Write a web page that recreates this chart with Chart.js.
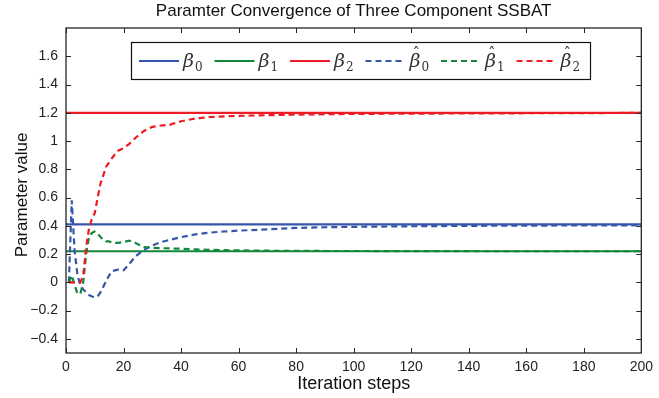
<!DOCTYPE html>
<html>
<head>
<meta charset="utf-8">
<script src="https://cdn.jsdelivr.net/npm/chart.js@4"></script>
<style>
  html, body { margin: 0; padding: 0; background: #fff; }
  #wrap { width: 659px; height: 398px; }
</style>
</head>
<body>
<div id="wrap"><canvas id="myChart" width="659" height="398"></canvas></div>
<script>
const title = 'Paramter Convergence of Three Component SSBAT';
const xLabel = 'Iteration steps';
const yLabel = 'Parameter value';
const xTicks = [0, 20, 40, 60, 80, 100, 120, 140, 160, 180, 200];
const yTicks = [-0.4, -0.2, 0, 0.2, 0.4, 0.6, 0.8, 1, 1.2, 1.4, 1.6];

// true parameter values
const trueSteps = [0, 200];
const beta0 = 0.41;
const beta1 = 0.22;
const beta2 = 1.2;

// estimates per iteration step
const steps = [1, 2, 3, 4, 5, 6, 7, 8, 9, 10, 11, 12, 13, 14, 15, 16, 18, 20, 22, 24,
  27, 30, 33, 36, 40, 45, 50, 55, 60, 70, 80, 90, 100, 120, 150, 200];
const beta0Hat = [0.00, 0.58, 0.22, 0.05, -0.02, -0.05, -0.07, -0.09, -0.10, -0.105, -0.10, -0.07,
  -0.03, 0.01, 0.05, 0.08, 0.09, 0.085, 0.13, 0.18, 0.23, 0.26, 0.285, 0.30, 0.32, 0.34, 0.352,
  0.36, 0.366, 0.375, 0.385, 0.39, 0.393, 0.397, 0.401, 0.404];
const beta1Hat = [0.00, 0.05, -0.02, -0.08, -0.08, 0.00, 0.20, 0.32, 0.35, 0.36, 0.345, 0.32,
  0.30, 0.29, 0.29, 0.28, 0.28, 0.285, 0.295, 0.28, 0.25, 0.245, 0.242, 0.24, 0.238, 0.233, 0.23,
  0.228, 0.226, 0.224, 0.223, 0.222, 0.222, 0.221, 0.220, 0.220];
const beta2Hat = [0.00, 0.00, 0.00, 0.00, 0.00, 0.05, 0.25, 0.38, 0.45, 0.49, 0.60, 0.70,
  0.76, 0.82, 0.85, 0.88, 0.93, 0.95, 0.98, 1.02, 1.07, 1.10, 1.11, 1.115, 1.14, 1.16, 1.17,
  1.175, 1.178, 1.183, 1.187, 1.19, 1.192, 1.194, 1.196, 1.199];

const blue = '#3556a8';
const green = '#13873b';
const red = '#ec1c24';
const sans = '"Liberation Sans", Arial, sans-serif';

const pts = (xs, ys) => xs.map((x, i) => ({ x: x, y: ys[i] }));
const flat = (v) => trueSteps.map(x => ({ x: x, y: v }));

const legendItems = [
  { color: blue, sub: '0', dashed: false },
  { color: green, sub: '1', dashed: false },
  { color: red, sub: '2', dashed: false },
  { color: blue, sub: '0', dashed: true },
  { color: green, sub: '1', dashed: true },
  { color: red, sub: '2', dashed: true }
];

const framePlugin = {
  id: 'frame',
  afterDraw(chart) {
    const ctx = chart.ctx;
    const a = chart.chartArea;
    const xs = chart.scales.x, ys = chart.scales.y;
    ctx.save();
    ctx.strokeStyle = '#262626';
    ctx.lineWidth = 1.3;
    ctx.strokeRect(a.left, a.top, a.right - a.left, a.bottom - a.top);
    ctx.lineWidth = 1;
    ctx.beginPath();
    xTicks.forEach(v => {
      const px = Math.round(xs.getPixelForValue(v)) + 0.5;
      ctx.moveTo(px, a.bottom); ctx.lineTo(px, a.bottom - 5);
      ctx.moveTo(px, a.top); ctx.lineTo(px, a.top + 5);
    });
    yTicks.forEach(v => {
      const py = Math.round(ys.getPixelForValue(v)) + 0.5;
      ctx.moveTo(a.left, py); ctx.lineTo(a.left + 5, py);
      ctx.moveTo(a.right, py); ctx.lineTo(a.right - 5, py);
    });
    ctx.stroke();

    // title and axis titles
    ctx.fillStyle = '#111';
    ctx.textAlign = 'center';
    ctx.textBaseline = 'middle';
    ctx.font = '17px ' + sans;
    ctx.fillText(title, (a.left + a.right) / 2, 11);
    ctx.font = '18px ' + sans;
    ctx.fillText(xLabel, (a.left + a.right) / 2, 384);
    ctx.save();
    ctx.translate(22, 195);
    ctx.rotate(-Math.PI / 2);
    ctx.font = '17px ' + sans;
    ctx.fillText(yLabel, 0, 0);
    ctx.restore();

    // legend
    ctx.fillStyle = '#fff';
    ctx.fillRect(131, 42, 459, 37);
    ctx.strokeStyle = '#111';
    ctx.lineWidth = 1.2;
    ctx.strokeRect(131.5, 42.5, 459, 37);
    const ly = 61;
    legendItems.forEach((it, i) => {
      const x0 = 139 + i * 75.5;
      ctx.strokeStyle = it.color;
      ctx.lineWidth = 2.2;
      ctx.setLineDash(it.dashed ? [6, 4] : []);
      ctx.beginPath();
      ctx.moveTo(x0, ly); ctx.lineTo(x0 + 40, ly);
      ctx.stroke();
      ctx.setLineDash([]);
      ctx.fillStyle = '#333';
      ctx.textAlign = 'left';
      ctx.textBaseline = 'alphabetic';
      ctx.font = 'italic 19px "DejaVu Serif", "Liberation Serif", serif';
      ctx.fillText('\u03B2', x0 + 44, ly + 6);
      if (it.dashed) {
        ctx.font = '15px "DejaVu Serif", serif';
        ctx.fillText('\u02C6', x0 + 47, ly - 3);
      }
      ctx.font = '12px "DejaVu Serif", "Liberation Serif", serif';
      ctx.fillText(it.sub, x0 + 56, ly + 10);
    });
    ctx.restore();
  }
};

const fmt = (v) => {
  const s = Number(v.toFixed(1)).toString();
  return s.replace('-', '\u2212');
};

new Chart(document.getElementById('myChart').getContext('2d'), {
  type: 'line',
  data: {
    datasets: [
      { label: 'b2hat', data: pts(steps, beta2Hat), borderColor: red, borderDash: [6, 4] },
      { label: 'b1hat', data: pts(steps, beta1Hat), borderColor: green, borderDash: [6, 4] },
      { label: 'b0hat', data: pts(steps, beta0Hat), borderColor: blue, borderDash: [6, 4] },
      { label: 'b2', data: flat(beta2), borderColor: red },
      { label: 'b1', data: flat(beta1), borderColor: green },
      { label: 'b0', data: flat(beta0), borderColor: blue }
    ]
  },
  options: {
    responsive: false,
    animation: false,
    events: [],
    layout: { padding: { top: 28, right: 14, left: 0, bottom: 0 } },
    elements: {
      point: { radius: 0 },
      line: { borderWidth: 2.2, tension: 0, fill: false }
    },
    plugins: {
      legend: { display: false },
      tooltip: { enabled: false }
    },
    scales: {
      x: {
        type: 'linear',
        min: 0,
        max: 200,
        afterBuildTicks: (s) => { s.ticks = xTicks.map(v => ({ value: v })); },
        afterFit: (s) => { s.height = 45; },
        grid: { display: false, drawTicks: false, tickLength: 0 },
        border: { display: false },
        ticks: {
          color: '#222',
          padding: 6,
          maxRotation: 0,
          font: { size: 14, family: sans }
        }
      },
      y: {
        type: 'linear',
        min: -0.5,
        max: 1.8,
        afterBuildTicks: (s) => { s.ticks = yTicks.map(v => ({ value: v })); },
        afterFit: (s) => { s.width = 66; },
        grid: { display: false, drawTicks: false, tickLength: 0 },
        border: { display: false },
        ticks: {
          color: '#222',
          padding: 8,
          callback: (v) => fmt(v),
          font: { size: 14, family: sans }
        }
      }
    }
  },
  plugins: [framePlugin]
});
</script>
</body>
</html>
